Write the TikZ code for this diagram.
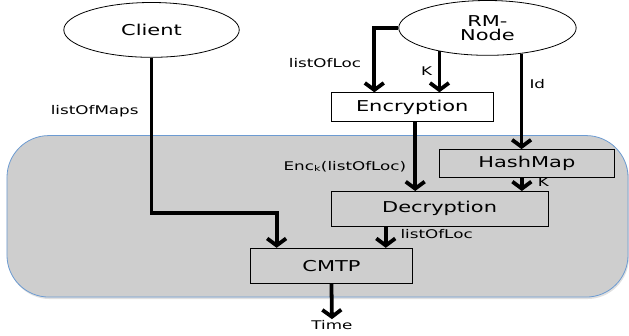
\documentclass[tikz,border=0pt]{standalone}
\usepackage{fontspec}
\setmainfont[FakeStretch=1.4]{DejaVu Sans}
\usepackage{tikz}
\usetikzlibrary{shapes.geometric,arrows.meta}
\definecolor{regiongray}{RGB}{206,206,206}
\definecolor{regionblue}{RGB}{108,155,210}

\begin{document}
\begin{tikzpicture}[x=1pt, y=-1pt,
  actor/.style={draw, ellipse, line width=0.8pt, fill=white, inner sep=0pt, minimum width=176pt, minimum height=55pt, align=center, font=\fontsize{15}{16}\selectfont},
  box/.style={draw, line width=0.8pt, inner sep=0pt, font=\fontsize{15}{16}\selectfont},
  flow/.style={line width=3.8pt, -{Straight Barb[length=7pt, width=19pt]}},
  lbl/.style={inner sep=1pt, font=\fontsize{12}{13}\selectfont}]

\path (0,0) to (629,337);

% shared region
\fill[black!12, rounded corners=42pt] (8,137.5) rectangle (631,300);
\draw[regionblue, fill=regiongray, line width=0.8pt, rounded corners=42pt] (7,136) rectangle (630,298);

\node[actor] (client) at (152,30) {Client};
\node[actor, minimum width=178pt] (rmnode) at (489,28) {RM-\\[-2pt]Node};

\node[box, fill=white, minimum width=163pt, minimum height=29pt] (encryption) at (413.5,107.5) {Encryption};
\node[box, minimum width=175pt, minimum height=28pt] (hashmap) at (528.5,164) {HashMap};
\node[box, minimum width=218pt, minimum height=35pt] (decryption) at (441,209.5) {Decryption};
\node[box, minimum width=163pt, minimum height=35pt] (cmtp) at (332.5,266.5) {CMTP};
\node[lbl] (time) at (333,326) {Time};

\draw[flow] (client.south) -- ++(0,156) -| ([xshift=-55pt]cmtp.north);
\draw[flow] (rmnode.west) -| ([xshift=-38pt]encryption.north);
\draw[flow] (rmnode.206) -- (rmnode.206 |- encryption.north);
\draw[flow] (rmnode.323) -- (rmnode.323 |- hashmap.north);
\draw[flow] ([xshift=3pt]encryption.south) -- ([xshift=3pt]encryption.south |- decryption.north);
\draw[flow] ([xshift=-5pt]hashmap.south) -- ([xshift=-5pt]hashmap.south |- decryption.north);
\draw[flow] ([xshift=-54pt]decryption.south) -- ([xshift=-54pt]decryption.south |- cmtp.north);
\draw[flow] (cmtp.south) -- (time.north);

\node[lbl] (mapslbl) at (95,112) {listOfMaps};
\node[lbl] (loclbl) at (326,63) {listOfLoc};
\node[lbl] (klbl) at (428,71) {K};
\node[lbl] (idlbl) at (539,84) {Id};
\node[lbl] (enclbl) at (346,167) {Enc\textsubscript{k}(listOfLoc)};
\node[lbl] (hklbl) at (545,183) {K};
\node[lbl] (declbl) at (438,235) {listOfLoc};

\end{tikzpicture}
\end{document}
